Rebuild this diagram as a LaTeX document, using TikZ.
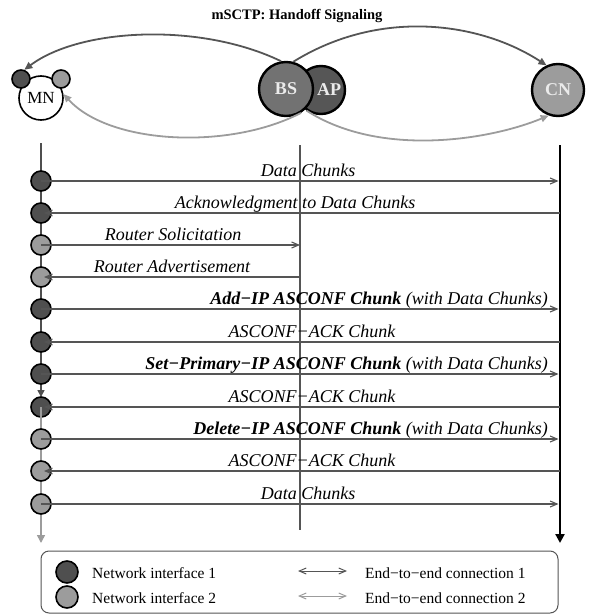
\documentclass[tikz,border=0pt]{standalone}
\usepackage{fontspec}
\setmainfont{Liberation Serif}
\usetikzlibrary{arrows.meta}
\definecolor{ifone}{HTML}{4F4F4F}
\definecolor{iftwo}{HTML}{9C9C9C}
\definecolor{msg}{HTML}{555555}
\definecolor{bsgray}{HTML}{727272}
\definecolor{apgray}{HTML}{565656}

\begin{document}
\begin{tikzpicture}[x=1pt,y=-1pt,
  iface/.style={circle,draw=black,line width=1.6pt,minimum size=20pt,inner sep=0pt},
  host/.style={circle,draw=black,line width=2.4pt,inner sep=0pt,
    font=\fontsize{18}{18}\selectfont\bfseries,text=white!92!black},
  connone/.style={draw=msg,line width=1.8pt,-{Triangle[length=8pt,width=7pt]}},
  conntwo/.style={draw=iftwo,line width=1.8pt,-{Triangle[length=8pt,width=7pt]}},
  msgline/.style={draw=msg,line width=1.1pt,-{Straight Barb[length=7pt,width=6pt]}},
  lbl/.style={font=\fontsize{18}{18}\selectfont\itshape,anchor=base,inner sep=0pt},
  legtext/.style={font=\fontsize{15.5}{16}\selectfont,anchor=west,inner sep=0pt}]

  \useasboundingbox (0,0) rectangle (591,615);
  \node[font=\fontsize{14.5}{15}\selectfont\bfseries] (title) at (297,16) {mSCTP: Handoff Signaling};

  % end points
  \node[circle,draw=black,line width=1.6pt,fill=white,minimum size=44pt,inner sep=0pt,
    font=\fontsize{17}{17}\selectfont] (mn) at (41,98) {MN};
  \node[iface,fill=ifone,minimum size=18pt] (mnone) at (21,79) {};
  \node[iface,fill=iftwo,minimum size=18pt] (mntwo) at (61,79) {};
  \node[host,fill=apgray,minimum size=48pt] (ap) at (321,90) {\hspace*{16pt}AP};
  \node[host,fill=bsgray,minimum size=54pt] (bs) at (286,89) {BS};
  \node[host,fill=iftwo,minimum size=52pt] (cn) at (558,90) {CN};

  % end-to-end connections
  \draw[connone] (bs.100) .. controls (200,22) and (80,28) .. (mnone.70);
  \draw[connone] (bs.75) .. controls (380,8) and (480,22) .. (cn.115);
  \draw[conntwo] (bs.-58) .. controls (230,150) and (110,145) .. (mn.10);
  \draw[conntwo] (ap.-125) .. controls (380,158) and (490,140) .. (cn.250);

  % life lines
  \coordinate (mntop) at (41,143);
  \coordinate (mnswitch) at (41,397);
  \coordinate (mnend) at (41,543);
  \coordinate (aptop) at (300,145);
  \coordinate (apend) at (300,530);
  \coordinate (cntop) at (560,145);
  \coordinate (cnend) at (560,543);
  \draw[line width=1.6pt,ifone,-{Triangle[length=7pt,width=7pt]}] (mntop) -- (mnswitch);
  \draw[line width=1.6pt,iftwo,-{Triangle[length=8pt,width=8pt]}] (41,407) -- (mnend);
  \draw[line width=1.1pt,msg] (aptop) -- (apend);
  \draw[line width=2.6pt,black,-{Triangle[length=9pt,width=9pt]}] (cntop) -- (cnend);

  \foreach \y/\c [count=\i] in {181/ifone,213/ifone,245/iftwo,277/iftwo,309/ifone,342/ifone,
      374/ifone,407/ifone,439/iftwo,471/iftwo,504/iftwo}
    \node[iface,fill=\c] (i\i) at (41,\y) {};
  \draw[line width=1.6pt,iftwo] (i8.center) -- (i8.south);

  % messages
  \draw[msgline,shorten >=1.5pt] (i1.center) -- (i1 -| cntop);
  \node[lbl] (l1) at (308,176) {Data Chunks};
  \draw[msgline,shorten >=3pt] (i2 -| cntop) -- (i2.center);
  \node[lbl] (l2) at (295,208) {Acknowledgment to Data Chunks};
  \draw[msgline] (i3.center) -- (i3 -| aptop);
  \node[lbl] (l3) at (173,240) {Router Solicitation};
  \draw[msgline,shorten >=3pt] (i4 -| aptop) -- (i4.center);
  \node[lbl] (l4) at (172,272) {Router Advertisement};
  \draw[msgline,shorten >=1.5pt] (i5.center) -- (i5 -| cntop);
  \node[lbl,anchor=base east] (l5) at (548,304) {\bfseries Add−IP ASCONF Chunk\mdseries\ (with Data Chunks)};
  \draw[msgline,shorten >=3pt] (i6 -| cntop) -- (i6.center);
  \node[lbl] (l6) at (312,337) {ASCONF−ACK Chunk};
  \draw[msgline,shorten >=1.5pt] (i7.center) -- (i7 -| cntop);
  \node[lbl,anchor=base east] (l7) at (548,369) {\bfseries Set−Primary−IP ASCONF Chunk\mdseries\ (with Data Chunks)};
  \draw[msgline,shorten >=3pt] (i8 -| cntop) -- (i8.center);
  \node[lbl] (l8) at (312,402) {ASCONF−ACK Chunk};
  \draw[msgline,shorten >=1.5pt] (i9.center) -- (i9 -| cntop);
  \node[lbl,anchor=base east] (l9) at (548,434) {\bfseries Delete−IP ASCONF Chunk\mdseries\ (with Data Chunks)};
  \draw[msgline,shorten >=3pt] (i10 -| cntop) -- (i10.center);
  \node[lbl] (l10) at (312,466) {ASCONF−ACK Chunk};
  \draw[msgline,shorten >=1.5pt] (i11.center) -- (i11 -| cntop);
  \node[lbl] (l11) at (308,499) {Data Chunks};

  % legend
  \draw[msg,line width=1pt,rounded corners=8pt] (41,551) rectangle (558,613);
  \node[iface,fill=ifone,minimum size=22pt] (legone) at (67,572) {};
  \node[iface,fill=iftwo,minimum size=22pt] (legtwo) at (67,597) {};
  \node[legtext] (legonetext) at (92,573) {Network interface 1};
  \node[legtext] (legtwotext) at (92,598) {Network interface 2};
  \coordinate (cononeleft) at (298,571);
  \coordinate (cononeright) at (347,571);
  \coordinate (contwoleft) at (298,596);
  \coordinate (contworight) at (347,596);
  \draw[msg,line width=1pt,{Straight Barb[length=7pt,width=6pt]}-{Straight Barb[length=7pt,width=6pt]}] (cononeleft) -- (cononeright);
  \draw[iftwo,line width=1pt,{Straight Barb[length=7pt,width=6pt]}-{Straight Barb[length=7pt,width=6pt]}] (contwoleft) -- (contworight);
  \node[legtext] (conone) at (365,573) {End−to−end connection 1};
  \node[legtext] (contwo) at (365,598) {End−to−end connection 2};
\end{tikzpicture}
\end{document}
